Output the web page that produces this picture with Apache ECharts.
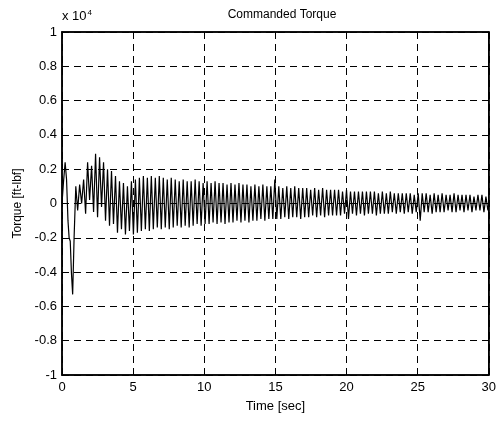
<!DOCTYPE html>
<html><head><meta charset="utf-8">
<script src="https://cdn.jsdelivr.net/npm/echarts@6/dist/echarts.min.js"></script>
<style>html,body{margin:0;padding:0;background:#fff}#c{width:499px;height:421px}</style>
</head><body><div id="c"></div>
<script>
// Values in units of 1e4 ft-lbf
const xTicks = [0, 5, 10, 15, 20, 25, 30];
const yTicks = [-1, -0.8, -0.6, -0.4, -0.2, 0, 0.2, 0.4, 0.6, 0.8, 1];
// initial transient (time [sec], torque)
const earlyTime = [0, 0.1, 0.22, 0.32, 0.42, 0.5, 0.58, 0.66, 0.75, 0.85, 0.97];
const earlyTorque = [0, 0.12, 0.24, 0.14, -0.1, -0.2, -0.22, -0.4, -0.53, -0.2, 0.1];
// oscillation extremes (alternating trough / peak) every half period from t=1.1 s
const oscStart = 1.1;
const oscHalfPeriod = 0.14;
const oscTorque = [
 -0.04,0.11, 0.00,0.14, -0.06,0.24, 0.02,0.22, -0.05,0.29, -0.08,0.27, -0.02,0.24, -0.10,0.20, -0.13,0.19, -0.12,0.16,
 -0.17,0.13, -0.15,0.12, -0.18,0.10, -0.16,0.13, -0.18,0.14, -0.17,0.15, -0.16,0.16, -0.15,0.15, -0.16,0.16, -0.15,0.15,
 -0.14,0.16, -0.15,0.15, -0.14,0.14, -0.15,0.15, -0.14,0.14, -0.13,0.13, -0.14,0.14, -0.13,0.13, -0.14,0.13, -0.13,0.14,
 -0.12,0.13, -0.13,0.12, -0.12,0.13, -0.12,0.12, -0.11,0.13, -0.12,0.12, -0.11,0.12, -0.12,0.11, -0.11,0.12, -0.11,0.11,
 -0.10,0.12, -0.11,0.11, -0.10,0.11, -0.11,0.10, -0.10,0.11, -0.10,0.10, -0.09,0.11, -0.10,0.10, -0.09,0.10, -0.09,0.14,
 -0.09,0.10, -0.09,0.09, -0.08,0.10, -0.09,0.09, -0.08,0.10, -0.08,0.09, -0.09,0.09, -0.08,0.09, -0.08,0.08, -0.07,0.09,
 -0.08,0.08, -0.07,0.09, -0.08,0.08, -0.07,0.08, -0.07,0.08, -0.07,0.08, -0.07,0.07, -0.06,0.08, -0.09,0.07, -0.06,0.07,
 -0.07,0.07, -0.06,0.07, -0.07,0.07, -0.06,0.07, -0.06,0.07, -0.07,0.06, -0.06,0.07, -0.06,0.06, -0.06,0.07, -0.05,0.06,
 -0.06,0.06, -0.05,0.06, -0.06,0.06, -0.05,0.06, -0.06,0.05, -0.05,0.06, -0.10,0.06, -0.05,0.06, -0.05,0.05, -0.06,0.06,
 -0.05,0.05, -0.05,0.06, -0.05,0.05, -0.04,0.05, -0.05,0.06, -0.05,0.05, -0.04,0.05, -0.05,0.05, -0.04,0.05, -0.05,0.04,
 -0.04,0.05, -0.04,0.05, -0.05,0.04, -0.04
];

const data = [];
earlyTime.forEach((t, i) => data.push([t, earlyTorque[i]]));
oscTorque.forEach((v, i) => data.push([oscStart + i * oscHalfPeriod, v]));

const FONT = '"Liberation Sans", Arial, Helvetica, sans-serif';
const gridLine = { show: true, lineStyle: { color: '#000', width: 1, type: [7, 5] } };
const chart = echarts.init(document.getElementById('c'), null, { renderer: 'canvas' });
chart.setOption({
  backgroundColor: '#fff',
  animation: false,
  title: { text: 'Commanded Torque', left: 277, top: 4, textAlign: 'center',
    textStyle: { fontFamily: FONT, fontSize: 12, fontWeight: 'normal', color: '#000' } },
  grid: { left: 62, right: 8, top: 32, bottom: 46, show: true, borderColor: '#000', borderWidth: 1.5 },
  xAxis: [{
    type: 'value', min: 0, max: 30, interval: 5,
    name: 'Time [sec]', nameLocation: 'middle', nameGap: 25,
    nameTextStyle: { fontFamily: FONT, fontSize: 13, color: '#000' },
    axisLine: { show: true, onZero: false, lineStyle: { color: '#000', width: 1.5 } },
    axisTick: { show: true, inside: true, length: 4, lineStyle: { color: '#000' } },
    axisLabel: { fontFamily: FONT, fontSize: 13, color: '#000', margin: 6,
      formatter: v => xTicks.includes(v) ? String(v) : '' },
    splitLine: gridLine
  }, {
    type: 'value', min: 0, max: 30, interval: 5, position: 'top',
    axisLine: { show: true, onZero: false, lineStyle: { color: '#000', width: 1.5 } },
    axisTick: { show: true, inside: true, length: 4, lineStyle: { color: '#000' } },
    axisLabel: { show: false }, splitLine: { show: false }
  }],
  yAxis: [{
    type: 'value', min: -1, max: 1, interval: 0.2,
    name: 'Torque [ft-lbf]', nameLocation: 'middle', nameGap: 37, nameRotate: 90,
    nameTextStyle: { fontFamily: FONT, fontSize: 12, color: '#000' },
    axisLine: { show: true, onZero: false, lineStyle: { color: '#000', width: 1.5 } },
    axisTick: { show: true, inside: true, length: 4, lineStyle: { color: '#000' } },
    axisLabel: { fontFamily: FONT, fontSize: 13, color: '#000', margin: 5,
      formatter: v => { const r = Math.round(v * 10) / 10; return yTicks.includes(r) ? String(r) : ''; } },
    splitLine: gridLine
  }, {
    type: 'value', min: -1, max: 1, interval: 0.2, position: 'right',
    axisLine: { show: true, onZero: false, lineStyle: { color: '#000', width: 1.5 } },
    axisTick: { show: true, inside: true, length: 4, lineStyle: { color: '#000' } },
    axisLabel: { show: false }, splitLine: { show: false }
  }],
  graphic: [{
    type: 'text', left: 62, top: 9,
    style: { text: '{a|x 10}{b|4}', fill: '#000',
      rich: { a: { fontFamily: FONT, fontSize: 13, fill: '#000' },
              b: { fontFamily: FONT, fontSize: 8, fill: '#000', verticalAlign: 'top', padding: [0,0,7,1] } } }
  }],
  series: [{
    type: 'line', data: data, xAxisIndex: 0, yAxisIndex: 0,
    showSymbol: false, smooth: false,
    lineStyle: { color: '#000', width: 1.2 }
  }]
});
</script></body></html>
